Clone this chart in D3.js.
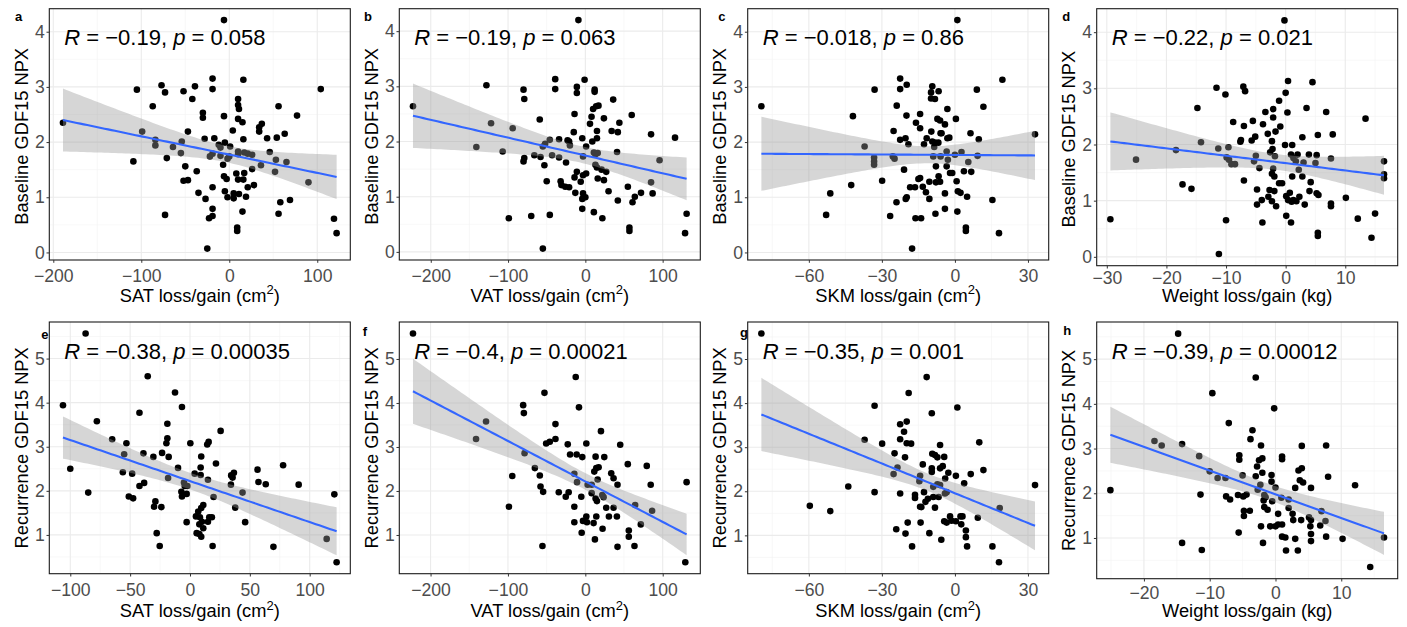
<!DOCTYPE html>
<html>
<head>
<meta charset="utf-8">
<script src="https://cdn.jsdelivr.net/npm/d3@7"></script>
<style>
body { margin: 0; background: #fff; }
text { font-family: "Liberation Sans", Arial, Helvetica, sans-serif; }
</style>
</head>
<body>
<script>
// DATA: [change, GDF15 NPX]
const satBaseline = [[-6,4.21],[-105,2.95],[-77,3.03],[-73,2.9],[-87,2.65],[-52,2.92],[-39,3.01],[-42,2.78],[-19,3.15],[-19,2.96],[16,3.13],[104,2.96],[-189,2.35],[-99,2.19],[-109,1.65],[-84,2.04],[-84,1.94],[-64,1.91],[-71,1.71],[-54,2.01],[-55,1.8],[-47,2.19],[-50,1.56],[-52,1.3],[-47,1.31],[-37,1.47],[-35,1.08],[-27,0.97],[-73,0.68],[-30,2.53],[-30,2.44],[-28,2.06],[-17,2.07],[-12,1.95],[-10,1.9],[-6,2.47],[1,1.92],[-5,1.99],[0,1.74],[-2,1.7],[-10,1.75],[-22,1.74],[-19,1.79],[-7,1.59],[-6,1.38],[-3,1.33],[-19,1.18],[-2,1.0],[-5,1.11],[5,0.98],[5,1.07],[11,1.06],[-19,0.79],[-19,0.66],[-23,0.62],[-25,0.07],[9,0.45],[9,0.39],[15,0.74],[10,2.78],[10,2.67],[11,2.6],[10,2.42],[15,2.36],[4,2.21],[16,2.05],[10,1.83],[10,1.78],[17,1.81],[21,1.79],[26,1.77],[8,1.43],[10,1.32],[17,1.44],[16,1.32],[26,1.51],[21,1.18],[28,1.22],[19,1.01],[34,2.27],[37,2.33],[34,2.19],[43,2.07],[46,1.82],[36,1.58],[56,2.65],[77,2.48],[54,2.08],[63,2.15],[53,1.68],[52,1.46],[65,1.64],[90,1.27],[58,0.91],[56,0.7],[69,0.95],[119,0.61],[122,0.35]];

const vatBaseline = [[-9,4.2],[-223,2.64],[-128,3.02],[-80,2.94],[-79,2.77],[-39,3.13],[-39,2.95],[-11,2.99],[-11,2.88],[-1,3.12],[12,2.94],[12,2.9],[36,2.76],[-122,2.33],[-94,2.24],[-141,1.9],[-107,1.82],[-59,2.4],[-79,1.7],[-80,1.64],[-66,1.75],[-58,1.72],[-55,1.91],[-52,1.96],[-46,2.03],[-34,2.04],[-43,1.75],[-34,1.71],[-53,1.57],[-50,1.28],[-32,1.28],[-31,1.21],[-26,1.18],[-21,1.17],[-25,1.62],[-23,2.02],[-20,1.93],[-21,2.0],[-14,2.5],[-15,2.17],[-14,1.35],[-11,1.45],[-13,1.07],[-6,1.27],[-3,1.39],[1,1.42],[-4,2.06],[-3,1.73],[1,1.91],[-3,1.06],[-4,0.96],[0,0.99],[-4,0.78],[6,2.32],[8,2.45],[10,2.59],[14,2.64],[17,2.65],[9,2.0],[15,2.19],[15,2.06],[11,1.8],[13,1.77],[16,1.79],[13,1.58],[15,1.53],[21,1.49],[27,1.45],[16,1.33],[24,1.3],[24,2.42],[30,1.1],[11,0.72],[22,0.61],[34,2.19],[44,2.34],[42,2.17],[41,1.81],[42,0.93],[60,2.48],[55,1.18],[64,1.0],[61,0.9],[72,1.07],[57,0.44],[57,0.38],[85,2.13],[116,2.07],[96,1.66],[85,1.26],[87,1.06],[131,0.69],[129,0.34],[-55,0.06],[-99,0.61],[-70,0.65],[-46,0.67]];

const skmBaseline = [[1,4.21],[-79.5,2.65],[-41.9,2.47],[-33,2.95],[-22.5,3.15],[-22.5,2.96],[-19.8,3.04],[19.5,3.13],[9,2.95],[11.7,2.64],[-9.3,3.01],[-9.8,2.9],[-6.7,2.92],[-9.8,2.79],[-8.2,2.78],[-23.9,2.66],[-19.9,2.48],[-14.3,2.51],[-16,2.35],[-14.3,2.25],[-25.2,2.2],[-22.5,2.04],[-20.3,2.07],[-19.1,1.96],[-11.6,2.07],[-12.7,1.96],[-9.7,2.19],[-7.2,2.42],[-6.1,2.39],[-5.5,2.16],[-4.1,2.32],[-3.1,2.6],[0.4,2.42],[-3.1,2.07],[-2.3,2.08],[-9.3,2.01],[-8.2,1.99],[-6.8,1.99],[-8.5,1.91],[-5.9,2.16],[6.4,2.16],[9.8,2.05],[-37.1,1.92],[-33.2,1.72],[-33.2,1.65],[-33.2,1.59],[-25.5,1.74],[-24.8,1.7],[-20.9,1.5],[-29.9,1.3],[-14.3,1.35],[-15,1.33],[-13.2,1.19],[-18.4,1.18],[-16.4,1.18],[-11.9,1.09],[-10.5,0.97],[-10.5,1.28],[-7.8,1.27],[-6.7,1.38],[-6.1,1.28],[-7.8,1.56],[-3.4,1.56],[-2,1.44],[-1.1,1.44],[-2.9,1.68],[0.7,1.29],[1.2,1.11],[2.3,1.08],[3.7,1.47],[6.7,1.46],[5.5,1.64],[9.3,1.75],[0,1.77],[2.7,1.82],[-3.4,1.83],[-5.9,1.74],[-8.9,1.74],[-4.1,1.07],[-4.1,0.79],[1,0.74],[5,1.01],[-8,0.7],[4.5,0.45],[4.5,0.39],[15.4,0.95],[18.1,0.35],[32.9,2.14],[-51.2,1.07],[-42.6,1.22],[-52.9,0.68],[-26.6,0.66],[-24,0.91],[-20.2,0.97],[-19.8,1.0],[-16.2,0.62],[-13.9,0.62],[-17.6,0.07]];

const weightBaseline = [[-0.2,4.21],[-29.4,0.67],[-25.1,1.73],[-18.4,1.9],[-17.3,1.29],[-15.8,1.21],[-14.8,2.65],[-14.2,2.04],[-11.6,3.01],[-10.1,2.89],[-11.3,1.93],[-11.2,0.05],[-10,0.65],[-9.6,1.95],[-9.9,1.77],[-9.5,1.73],[-9.1,1.65],[-8.5,1.65],[-8.8,2.4],[-7.6,2.05],[-7.5,2.08],[-7.1,3.03],[-6.8,2.95],[-7,2.33],[-7,1.36],[-5.5,2.42],[-5.7,2.07],[-5.1,2.14],[-5.3,1.7],[-5,1.8],[-4.4,1.58],[-4.8,1.2],[-4.8,0.93],[-4,1.01],[-3.9,0.61],[-3.8,2.36],[-3.4,2.58],[-3,2.19],[-2.6,1.86],[-2.7,1.19],[-2.9,1.07],[-2.3,0.99],[-1.6,0.9],[-2.1,2.63],[-2.1,2.48],[-1.7,2.23],[-2.3,2.06],[-2.2,1.92],[-1.8,1.79],[-2.3,1.48],[-1.9,1.43],[-1.9,1.17],[-1.1,2.78],[-0.9,2.32],[-1.1,1.31],[-0.6,1.31],[-2.1,1.57],[0,2.92],[0.4,3.13],[0.3,2.57],[-0.1,1.99],[1.1,1.99],[0.9,1.82],[1.3,1.76],[1.7,1.7],[2.2,1.55],[1.1,1.43],[2,1.82],[0.7,1.14],[0.1,1.08],[0.4,1.01],[1,0.98],[1.3,1.01],[1.8,0.99],[2.3,1.07],[0.1,0.73],[0.9,0.61],[3.2,0.93],[2.8,2.13],[3,1.68],[2.8,1.43],[3.5,2.65],[4.5,3.11],[4.2,1.33],[4,1.17],[3.9,1.82],[5.2,1.81],[5,1.67],[5.4,2.17],[5.2,1.13],[5.5,1.1],[5.4,0.43],[5.4,0.37],[6.8,2.58],[7.6,1.75],[7.6,0.95],[7.6,0.9],[7.9,2.18],[10.1,1.05],[12.1,0.68],[13.4,2.46],[14.4,0.34],[15,0.77],[16.5,1.7],[16.5,1.47],[16.5,1.4]];

const satRecurrence = [[-87.2,5.57],[-35.3,4.6],[-12.5,4.23],[-106.1,3.94],[-6.7,3.9],[-42.2,3.77],[-77.8,3.58],[-18.9,3.52],[25.6,3.36],[-65,3.17],[-18.9,3.19],[-53.1,3.08],[-19.7,3.08],[0.3,3.08],[15.6,3.11],[14.4,3.05],[-55,2.83],[-38.9,2.85],[-30.6,2.77],[-23.3,2.86],[-17.8,2.77],[9.4,2.78],[-100,2.5],[-10,2.52],[8.9,2.53],[21.7,2.62],[56.4,2.48],[77.8,2.58],[34.4,2.35],[36.7,2.41],[35.6,2.3],[3.9,2.39],[8.9,2.36],[-56.1,2.42],[-48.3,2.39],[-18.3,2.29],[15,2.25],[57.2,2.2],[63.3,2.15],[90.8,2.14],[34.2,2.14],[-38.3,2.18],[-42.2,2.11],[-85,1.96],[-5,2.19],[-4.4,2.11],[-2.2,2.11],[-7.2,1.98],[-6.7,1.87],[-2.8,1.93],[-51.1,1.87],[-47.5,1.83],[19.7,1.86],[43.9,1.96],[120.6,1.92],[-28.9,1.76],[-30,1.64],[-23.9,1.63],[37.8,1.62],[11.1,1.68],[9.4,1.61],[6.9,1.53],[5,1.42],[8.3,1.4],[16.1,1.4],[18.3,1.4],[15,1.3],[10,1.3],[7.8,1.24],[-2.8,1.29],[46.1,1.29],[11.1,1.15],[5.6,1.04],[7.8,1.02],[9.4,0.96],[-27.8,1.04],[-25.3,0.75],[18.9,0.75],[69.7,0.73],[114.2,0.91],[122.5,0.38]];

const vatRecurrence = [[-222.7,5.58],[-12.4,4.59],[-52.8,4.23],[-80.3,3.95],[-8.2,3.9],[-79.4,3.77],[-128.3,3.58],[-38.6,3.52],[20.2,3.36],[-141.2,3.18],[-38.6,3.18],[-50.6,3.08],[-45.9,3.12],[-22.7,3.06],[1.3,3.08],[45.1,3.05],[-78.5,2.86],[-19.7,2.83],[-11.2,2.83],[-3.9,2.77],[13.3,2.78],[24.5,2.77],[-65.2,2.52],[-94.4,2.34],[54.9,2.61],[79.4,2.57],[-58.8,2.35],[-14.2,2.39],[14.2,2.52],[17.2,2.54],[11.6,2.44],[33.5,2.4],[36.5,2.29],[41.6,2.14],[84.5,2.14],[130.9,2.2],[-57.9,2.1],[-54.5,1.98],[-34.3,1.97],[-21.5,1.97],[-25.3,1.87],[-10.7,2.2],[3,2.14],[8.2,2.14],[15.9,2.26],[-5.2,1.87],[8.2,1.95],[13.3,1.83],[21.9,1.91],[23.6,1.86],[15,1.77],[-98.7,1.64],[-14.2,1.64],[27,1.62],[36.5,1.62],[64.4,1.68],[86.3,1.55],[14.2,1.42],[30.5,1.42],[40.8,1.42],[1.3,1.42],[-3,1.32],[-14.2,1.29],[2.1,1.29],[10.7,1.27],[71.7,1.24],[22.3,1.14],[56.2,1.1],[-4.7,1.05],[56.2,0.96],[12.4,0.9],[-55.4,0.75],[41.6,0.73],[63.5,0.75],[129.2,0.38]];

const skmRecurrence = [[-79.5,5.58],[-11.6,4.59],[-19,4.23],[-33,3.94],[1,3.9],[-9.5,3.77],[-19.8,3.58],[-22.5,3.52],[-20.9,3.35],[-37.1,3.17],[-22.5,3.18],[-29.9,3.08],[-19.8,3.09],[-18,3.08],[-6.1,3.05],[10,3.11],[-24.8,2.86],[-20.5,2.77],[-9.3,2.85],[-8.2,2.82],[-7.2,2.77],[-4.4,2.78],[-23.6,2.54],[-25.2,2.39],[-13.2,2.61],[-9.5,2.52],[-9.5,2.44],[-6.1,2.52],[-5,2.57],[-2.7,2.42],[0.4,2.35],[6.5,2.39],[11.7,2.48],[-14.3,2.35],[-14.6,2.23],[-4,2.29],[3.8,2.18],[-43.8,2.11],[-33,1.98],[-22.5,1.95],[-16.4,1.92],[-16.4,1.85],[-12.7,1.98],[-8.9,2.1],[-7.2,2.16],[-6.1,2.14],[-8.9,1.87],[-6.7,1.87],[-4.1,1.95],[-3.4,1.98],[32.9,2.14],[-11.1,1.83],[-12.1,1.76],[-14.3,1.65],[-13.8,1.64],[-8.2,1.63],[-59.6,1.67],[-51.2,1.55],[18.4,1.62],[-2,1.43],[-1.4,1.33],[-4.4,1.32],[-3.4,1.29],[0.4,1.32],[2.3,1.43],[3.1,1.43],[2.6,1.25],[4.5,1.11],[4.5,0.96],[9.4,1.4],[-14.1,1.29],[-19.4,1.29],[-24.1,1.14],[-20.3,1.04],[-10.5,1.05],[-5.6,0.9],[-17.6,0.75],[5,0.75],[15.4,0.75],[18.1,0.39]];

const weightRecurrence = [[-14.8,5.57],[-3,4.59],[-9.6,4.24],[-0.2,3.9],[-7.1,3.57],[-3.5,3.41],[-3.8,3.21],[-18.4,3.17],[-17.3,3.07],[-14.2,3.1],[-2.2,3.07],[4,3.06],[7.7,3.07],[-11.6,2.83],[-5.5,2.85],[-5.5,2.75],[-2.5,2.74],[-2,2.78],[1,2.82],[1,2.76],[-2.8,2.6],[-10,2.49],[-5,2.4],[-3,2.38],[-0.6,2.41],[-2,2.46],[3.5,2.51],[4,2.56],[-8.8,2.34],[-7.6,2.34],[-0.6,2.26],[3.7,2.29],[4.2,2.24],[3,2.12],[5.4,2.12],[8,2.37],[12.1,2.18],[-2.3,2.19],[-2.7,2.08],[0,2.13],[-25.1,2.07],[-11.4,1.97],[-7.5,1.93],[-6.9,1.86],[-5.7,1.96],[-4.9,1.93],[-4.4,1.97],[-1.7,1.96],[-1.5,1.91],[-1.8,1.84],[-0.5,1.82],[0.9,1.9],[2,1.86],[-1.7,1.69],[-1.2,1.63],[-4.8,1.61],[-3.9,1.61],[-4.8,1.49],[0.4,1.54],[2,1.67],[2.6,1.54],[2.7,1.4],[3.9,1.4],[5.1,1.46],[5.4,1.4],[7,1.6],[7.6,1.38],[-2.2,1.26],[0,1.26],[1,1.3],[0.4,1.3],[-0.8,1.26],[5.3,1.26],[6.8,1.28],[-5.6,1.12],[1,1.03],[1.5,1.01],[3,0.98],[5.4,1.09],[5.4,0.93],[7.7,1.03],[10.2,0.98],[16.5,1.01],[-14.2,0.89],[-1.9,0.89],[-11.2,0.73],[1.6,0.72],[3.4,0.72],[14.4,0.35]];

// tick labels
const xTicksFat = [-200, -100, 0, 100];
const xTicksSatRec = [-100, -50, 0, 50, 100];
const xTicksSkm = [-60, -30, 0, 30];
const xTicksWeightBase = [-30, -20, -10, 0, 10];
const xTicksWeightRec = [-20, -10, 0, 10];
const yTicksBase = [0, 1, 2, 3, 4];
const yTicksRec = [1, 2, 3, 4, 5];

// panel text
const panelLetters = ["a", "b", "c", "d", "e", "f", "g", "h"];
const rValues = ["−0.19", "−0.19", "−0.018", "−0.22", "−0.38", "−0.4", "−0.35", "−0.39"];
const pValues = ["0.058", "0.063", "0.86", "0.021", "0.00035", "0.00021", "0.001", "0.00012"];
const xNames = ["SAT", "VAT", "SKM", "Weight", "SAT", "VAT", "SKM", "Weight"];
const yTitles = ["Baseline GDF15 NPX", "Recurrence GDF15 NPX"];

const panels = [
  {pts: satBaseline, xt: xTicksFat, yt: yTicksBase},
  {pts: vatBaseline, xt: xTicksFat, yt: yTicksBase},
  {pts: skmBaseline, xt: xTicksSkm, yt: yTicksBase},
  {pts: weightBaseline, xt: xTicksWeightBase, yt: yTicksBase},
  {pts: satRecurrence, xt: xTicksSatRec, yt: yTicksRec},
  {pts: vatRecurrence, xt: xTicksFat, yt: yTicksRec},
  {pts: skmRecurrence, xt: xTicksSkm, yt: yTicksRec},
  {pts: weightRecurrence, xt: xTicksWeightRec, yt: yTicksRec}
];

// layout (pixels)
const colLeft = [49.3, 399.3, 747.7, 1096.7];
const plotW = 301;
const rowTop = [8.7, 322];
const plotH = [251.3, 251.3, 251.3, 257, 251.7, 251.7, 251.7, 256.7];
const xPad = [7, 7, 7, 2.6, 7, 7, 7, 4.6];
const xTitleBase = [301.5, 617];
const yTitleShift = [2, 0];
const letterPos = [[15, 20.7], [364, 20.7], [718.3, 20.7], [1062.3, 20.7], [41.3, 338.7], [362.7, 336], [740, 337.3], [1063.3, 335.3]];

const svg = d3.select("body").append("svg")
  .attr("width", 1407).attr("height", 627);

const fmt = d3.format("d");

function expand(ext) {
  const r = ext[1] - ext[0];
  return [ext[0] - 0.05 * r, ext[1] + 0.05 * r];
}

function minors(ticks, dom) {
  const step = ticks[1] - ticks[0];
  const out = [];
  for (let v = ticks[0] - step / 2; v <= ticks[ticks.length - 1] + step; v += step) {
    if (v >= dom[0] && v <= dom[1]) out.push(v);
  }
  return out;
}

// linear fit with 95% band, like geom_smooth(method = "lm")
function fitLine(pts) {
  const n = pts.length;
  const mx = d3.mean(pts, d => d[0]), my = d3.mean(pts, d => d[1]);
  const sxx = d3.sum(pts, d => (d[0] - mx) ** 2);
  const sxy = d3.sum(pts, d => (d[0] - mx) * (d[1] - my));
  const b = sxy / sxx, a = my - b * mx;
  const s = Math.sqrt(d3.sum(pts, d => (d[1] - a - b * d[0]) ** 2) / (n - 2));
  const t = 1.96 + 2.37 / (n - 2);
  const [x0, x1] = d3.extent(pts, d => d[0]);
  return d3.range(80).map(i => {
    const x = x0 + (x1 - x0) * i / 79;
    const se = s * Math.sqrt(1 / n + (x - mx) ** 2 / sxx);
    const y = a + b * x;
    return {x, y, lo: y - t * se, hi: y + t * se};
  });
}

panels.forEach((p, i) => {
  const row = i < 4 ? 0 : 1, col = i % 4;
  const left = colLeft[col], top = rowTop[row], h = plotH[i];
  const g = svg.append("g").attr("transform", `translate(${left},${top})`);

  const xDom = expand(d3.extent(p.pts, d => d[0]));
  const yDom = expand(d3.extent(p.pts, d => d[1]));
  const x = d3.scaleLinear().domain(xDom).range([0, plotW]);
  const y = d3.scaleLinear().domain(yDom).range([h, 0]);

  // grid
  g.selectAll(".vmin").data(minors(p.xt, xDom)).join("line")
    .attr("x1", d => x(d)).attr("x2", d => x(d)).attr("y1", 0).attr("y2", h)
    .attr("stroke", "#f4f4f4").attr("stroke-width", 0.6);
  g.selectAll(".hmin").data(minors(p.yt, yDom)).join("line")
    .attr("y1", d => y(d)).attr("y2", d => y(d)).attr("x1", 0).attr("x2", plotW)
    .attr("stroke", "#f4f4f4").attr("stroke-width", 0.6);
  g.selectAll(".vmaj").data(p.xt).join("line")
    .attr("x1", d => x(d)).attr("x2", d => x(d)).attr("y1", 0).attr("y2", h)
    .attr("stroke", "#ebebeb").attr("stroke-width", 1.1);
  g.selectAll(".hmaj").data(p.yt).join("line")
    .attr("y1", d => y(d)).attr("y2", d => y(d)).attr("x1", 0).attr("x2", plotW)
    .attr("stroke", "#ebebeb").attr("stroke-width", 1.1);

  // points
  g.append("g").selectAll("circle").data(p.pts).join("circle")
    .attr("cx", d => x(d[0])).attr("cy", d => y(d[1])).attr("r", 3.3)
    .attr("fill", "#000");

  // smooth
  const fit = fitLine(p.pts);
  g.append("path").datum(fit)
    .attr("d", d3.area().x(d => x(d.x)).y0(d => y(d.lo)).y1(d => y(d.hi)))
    .attr("fill", "#999999").attr("fill-opacity", 0.4);
  g.append("path").datum(fit)
    .attr("d", d3.line().x(d => x(d.x)).y(d => y(d.y)))
    .attr("fill", "none").attr("stroke", "#3366FF").attr("stroke-width", 2.1);

  // border
  g.append("rect").attr("width", plotW).attr("height", h)
    .attr("fill", "none").attr("stroke", "#1a1a1a").attr("stroke-width", 1.1);

  // axes
  const ax = g.append("g").attr("transform", `translate(0,${h})`)
    .call(d3.axisBottom(x).tickValues(p.xt).tickFormat(fmt).tickSize(2.8).tickPadding(xPad[i]));
  const ay = g.append("g")
    .call(d3.axisLeft(y).tickValues(p.yt).tickFormat(fmt).tickSize(2.8).tickPadding(1.8));
  [ax, ay].forEach(a => {
    a.select(".domain").remove();
    a.selectAll("line").attr("stroke", "#333");
    a.selectAll("text").attr("fill", "#4d4d4d").style("font-size", "17.6px")
      .style("font-family", '"Liberation Sans", Arial, sans-serif');
  });

  // correlation label
  const lab = g.append("text").attr("x", 15).attr("y", 36.5)
    .style("font-size", "22px").attr("fill", "#000");
  lab.append("tspan").style("font-style", "italic").text("R");
  lab.append("tspan").text(` = ${rValues[i]}, `);
  lab.append("tspan").style("font-style", "italic").text("p");
  lab.append("tspan").text(` = ${pValues[i]}`);

  // axis titles
  const xt = svg.append("text")
    .attr("x", left + plotW / 2).attr("y", xTitleBase[row])
    .attr("text-anchor", "middle").style("font-size", "18.3px").attr("fill", "#000");
  if (col < 3) {
    xt.append("tspan").text(`${xNames[i]} loss/gain (cm`);
    xt.append("tspan").attr("dy", -7.5).style("font-size", "13px").text("2");
    xt.append("tspan").attr("dy", 7.5).text(")");
  } else {
    xt.text(`${xNames[i]} loss/gain (kg)`);
  }

  svg.append("text")
    .attr("transform", `translate(${left - 21.5},${top + h / 2 + yTitleShift[row]}) rotate(-90)`)
    .attr("text-anchor", "middle").style("font-size", "18.3px").attr("fill", "#000")
    .text(yTitles[row]);

  // panel letter
  svg.append("text").attr("x", letterPos[i][0]).attr("y", letterPos[i][1])
    .style("font-size", "13px").style("font-weight", "bold").text(panelLetters[i]);
});
</script>
</body>
</html>
